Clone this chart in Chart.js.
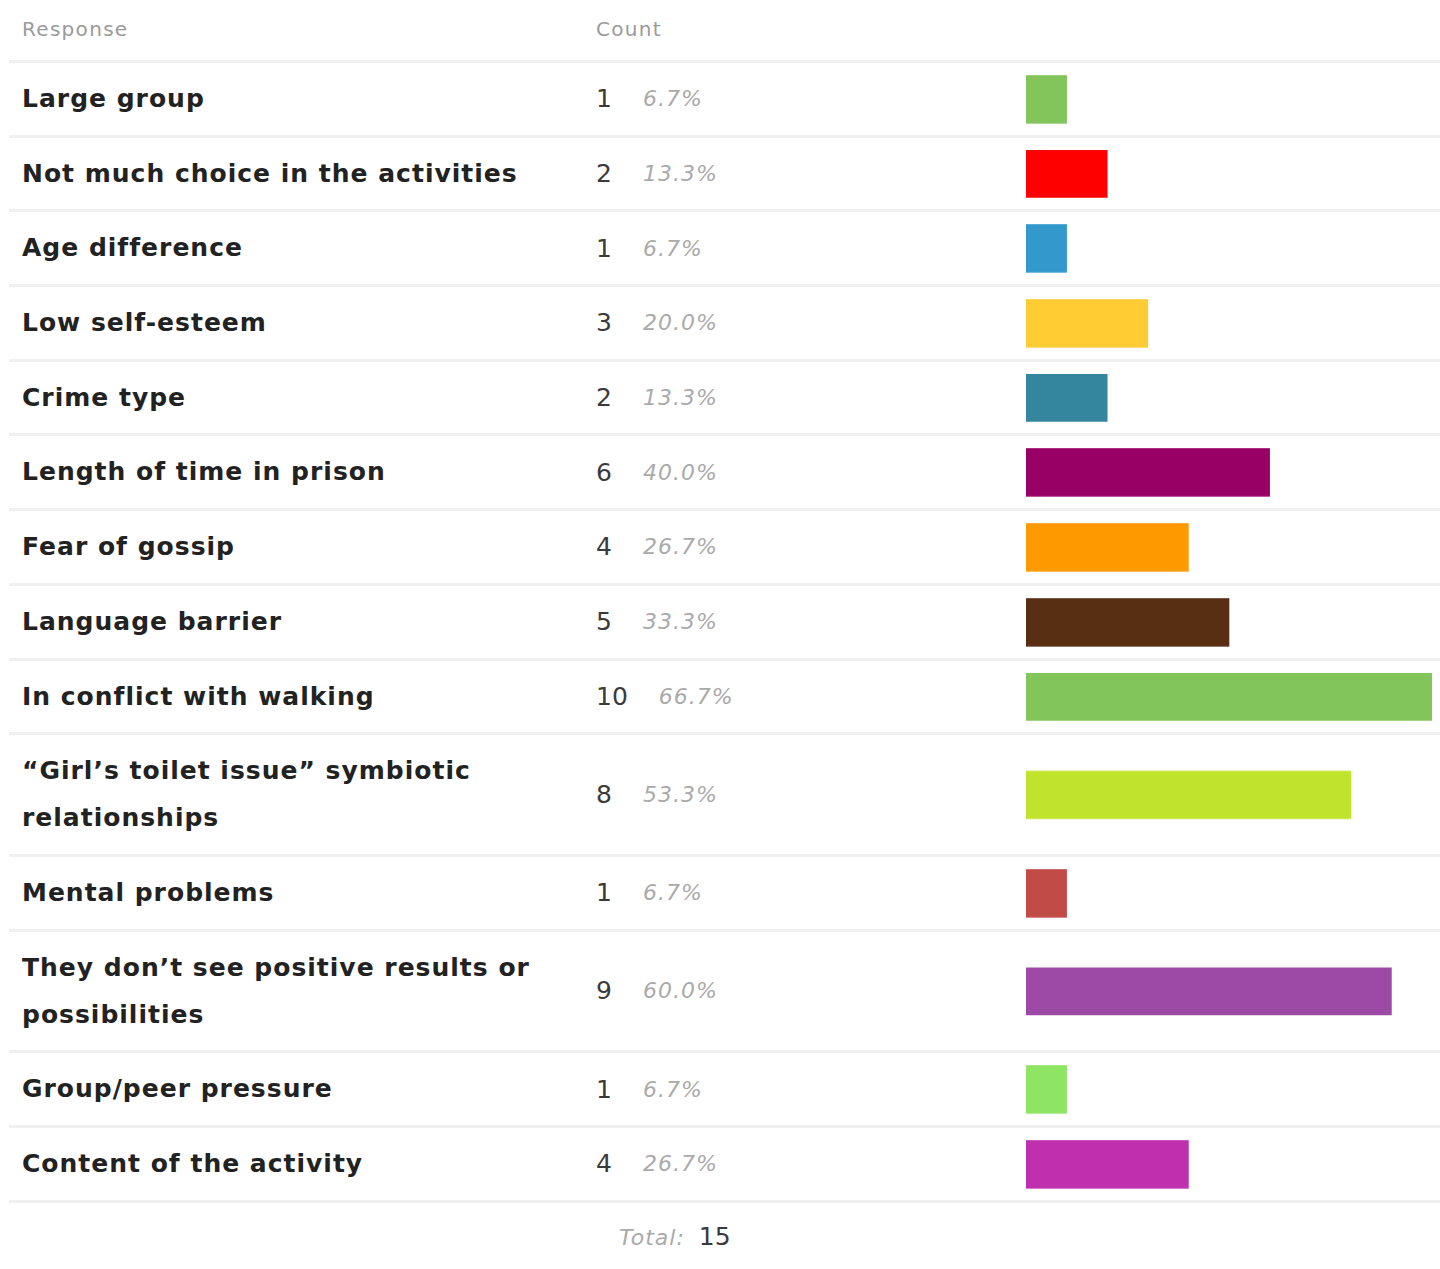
<!DOCTYPE html>
<html>
<head>
<meta charset="utf-8">
<script src="https://cdn.jsdelivr.net/npm/chart.js@4"></script>
<style>
  html, body { margin: 0; padding: 0; background: #fff; overflow: hidden; }
  body { width: 1440px; height: 1269px; font-family: "DejaVu Sans", sans-serif; }
  .row {
    margin-left: 9px;
    width: 1431px;
    display: grid;
    grid-template-columns: 563px 454px 1fr;
    border-bottom: 3px solid #f0f0f0;
    position: relative;
  }
  .c-label {
    padding: 12px 0 12.7px 13px;
    font-weight: bold;
    font-size: 25px;
    line-height: 47px;
    letter-spacing: 1px;
    color: #222;
  }
  .c-count {
    padding-left: 24px;
    display: flex;
    align-items: center;
    font-size: 25px;
    color: #3a3a3a;
  }
  .c-count .num { margin-right: 31px; }
  .c-count .pct { font-style: italic; font-size: 22px; letter-spacing: 1px; color: #aaa; }
  .c-bar { position: relative; }
  .c-bar .box { position: absolute; left: 0; top: 0; bottom: 0; width: 406px; }

  .head { height: 60px; }
  .head .c-label, .head .c-count {
    font-weight: normal;
    font-size: 20px;
    letter-spacing: 1.3px;
    color: #9a9a9a;
    line-height: 58px;
    padding-top: 0;
    padding-bottom: 0;
    display: block;
  }

  .total {
    padding: 10px 0 0 610px;
    line-height: 47px;
    margin-left: 9px;
  }
  .total .t { font-style: italic; font-size: 22px; letter-spacing: 1px; color: #aaa; margin-right: 14px; }
  .total .n { font-size: 25px; color: #3a3a3a; }
</style>
</head>
<body>
<div id="table"></div>
<script>
const responses = [
    'Large group',
    'Not much choice in the activities',
    'Age difference',
    'Low self-esteem',
    'Crime type',
    'Length of time in prison',
    'Fear of gossip',
    'Language barrier',
    'In conflict with walking',
    '\u201cGirl\u2019s toilet issue\u201d symbiotic relationships',
    'Mental problems',
    'They don\u2019t see positive results or possibilities',
    'Group/peer pressure',
    'Content of the activity'
];
const counts = [1, 2, 1, 3, 2, 6, 4, 5, 10, 8, 1, 9, 1, 4];
const barColors = [
    '#82c55b', '#ff0000', '#3399cc', '#ffcc33', '#33869e', '#990066', '#ff9900',
    '#592f14', '#82c55b', '#c0e32b', '#c14b46', '#9c4aa5', '#8ee564', '#bf2fae'
];
const totalRespondents = 15;

const table = document.getElementById('table');

// header row
const head = document.createElement('div');
head.className = 'row head';
head.innerHTML = '<div class="c-label">Response</div><div class="c-count">Count</div><div></div>';
table.appendChild(head);

const maxCount = Math.max(...counts);

responses.forEach((label, i) => {
    const row = document.createElement('div');
    row.className = 'row';

    const lab = document.createElement('div');
    lab.className = 'c-label';
    lab.textContent = label;

    const cnt = document.createElement('div');
    cnt.className = 'c-count';
    const pct = (counts[i] / totalRespondents * 100).toFixed(1) + '%';
    cnt.innerHTML = '<span class="num">' + counts[i] + '</span><span class="pct">' + pct + '</span>';

    const barCell = document.createElement('div');
    barCell.className = 'c-bar';
    const box = document.createElement('div');
    box.className = 'box';
    const canvas = document.createElement('canvas');
    box.appendChild(canvas);
    barCell.appendChild(box);

    row.appendChild(lab);
    row.appendChild(cnt);
    row.appendChild(barCell);
    table.appendChild(row);

    new Chart(canvas, {
        type: 'bar',
        data: {
            labels: [label],
            datasets: [{
                data: [counts[i]],
                backgroundColor: barColors[i],
                borderWidth: 0,
                barThickness: 47
            }]
        },
        options: {
            indexAxis: 'y',
            responsive: true,
            maintainAspectRatio: false,
            animation: false,
            layout: { padding: 0 },
            plugins: {
                legend: { display: false },
                tooltip: { enabled: false }
            },
            scales: {
                x: { display: false, min: 0, max: maxCount },
                y: { display: false }
            }
        }
    });
});

const total = document.createElement('div');
total.className = 'total';
total.innerHTML = '<span class="t">Total:</span><span class="n">' + totalRespondents + '</span>';
table.appendChild(total);
</script>
</body>
</html>
